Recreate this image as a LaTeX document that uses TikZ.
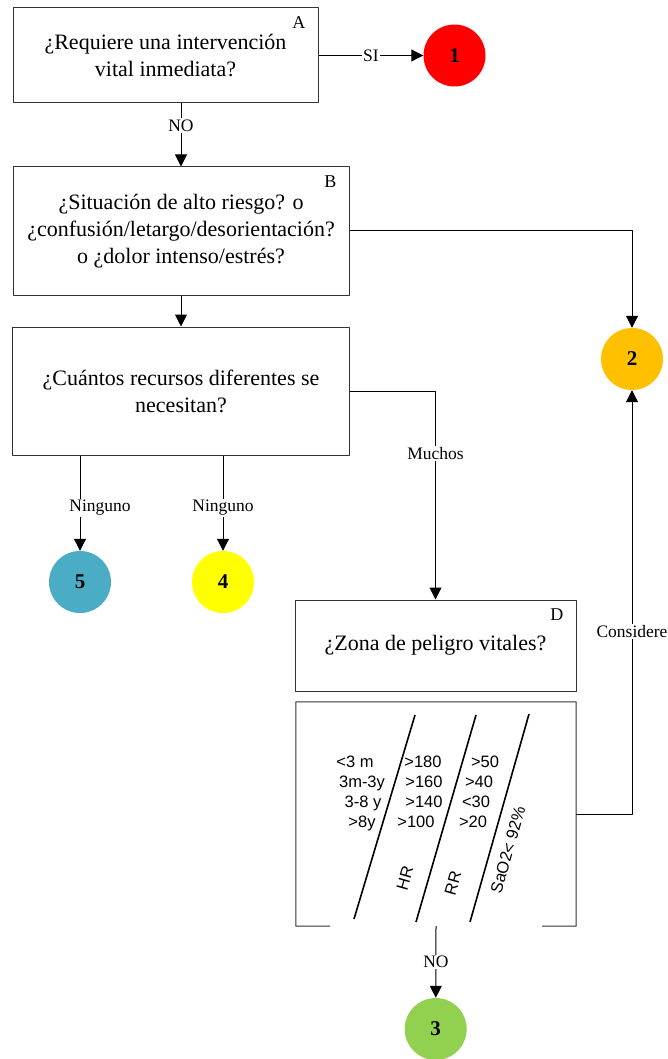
\documentclass[tikz,border=0pt]{standalone}
\usepackage{fontspec}
\setmainfont{Liberation Serif}
\newfontfamily\arialf{Liberation Sans}
\usetikzlibrary{arrows.meta}
\definecolor{naranja}{HTML}{FFC000}
\definecolor{verde}{HTML}{92D050}
\definecolor{amarillo}{HTML}{FFFF00}
\definecolor{azul}{HTML}{4BACC6}

\begin{document}
\begin{tikzpicture}[x=1pt,y=-1pt,>={Triangle[length=12pt,width=12pt]},line join=round,
	font=\fontsize{22}{27}\selectfont,
	caja/.style={draw=black!80,line width=1pt,align=center,inner sep=0pt},
	bola/.style={circle,minimum size=62pt,inner sep=0pt,font=\fontsize{21}{21}\selectfont\bfseries},
	etiq/.style={fill=white,inner sep=1.5pt,font=\fontsize{17.5}{17.5}\selectfont},
	flecha/.style={->,line width=1pt},
	cifra/.style={anchor=base,inner sep=0pt,font=\arialf\fontsize{16.5}{20}\selectfont}]
			\useasboundingbox (0,0) rectangle (668,1059);
			\newcommand{\letra}[2]{
				\node[anchor=north east,inner sep=0pt,font=\fontsize{18}{18}\selectfont] (#1l) at ([shift={(-13,9)}]#1.north east) {#2};
			}
			% Cajas
			\node[caja,minimum width=305pt,minimum height=95pt] (A) at (165.5,55.5) {¿Requiere una intervención\\vital inmediata?};
			\letra{A}{A}
			\node[caja,minimum width=336pt,minimum height=128pt] (B) at (181,231) {¿Situación de alto riesgo? o\\¿confusión/letargo/desorientación?\\o ¿dolor intenso/estrés?};
			\letra{B}{B}
			\node[caja,minimum width=337pt,minimum height=128pt] (C) at (181,391) {¿Cuántos recursos diferentes se\\necesitan?};
			\node[caja,minimum width=281pt,minimum height=91pt] (D) at (435.5,645.5) {¿Zona de peligro vitales?};
			\letra{D}{D}
			\node[minimum width=280pt,minimum height=224pt,inner sep=0pt] (E) at (436,814) {};
			\draw[draw=black!80,line width=1pt] (330,926) -- (E.south west) -- (E.north west) -- (E.north east) -- (E.south east) -- (542,926);
			% Círculos
			\node[bola,fill=red] (n1) at (454.5,55.5) {1};
			\node[bola,fill=naranja] (n2) at (632,359) {2};
			\node[bola,fill=verde] (n3) at (435.7,1029) {3};
			\node[bola,fill=amarillo] (n4) at (223,582) {4};
			\node[bola,fill=azul] (n5) at (80,582) {5};
			% Signos vitales
			\draw[line width=1.6pt] (354,919) -- (415,715);
			\draw[line width=1.6pt] (416,922) -- (476,715);
			\draw[line width=1.6pt] (470,922) -- (529,714);
			\foreach \t/\x/\y [count=\i] in {{<3 m}/355/767,{3m-3y}/362/787,{3-8 y}/363/807,{>8y}/362/827,
				{>180}/423/767,{>160}/424/787,{>140}/424/807,{>100}/416/827,
				{>50}/485/767,{>40}/479/787,{<30}/476/807,{>20}/473/827}
				\node[cifra] (f\i) at (\x,\y) {\t};
			\node[cifra,anchor=center,rotate=74] (hr) at (405,878) {HR};
			\node[cifra,anchor=center,rotate=74] (rr) at (453,883) {RR};
			\node[cifra,anchor=center,rotate=74] (sao) at (508,850) {SaO2< 92\%};
			% Flechas
			\draw[flecha] (A.east) -- node[etiq] (si) {SI} (n1);
			\draw[flecha] (A.south -| B.north) -- node[etiq,pos=0.35] (no1) {NO} (B.north);
			\draw[flecha] (B.east) -| (n2.north);
			\draw[flecha] (B.south) -- (C.north);
			\draw[flecha] (C.south -| n5.north) -- node[etiq,pos=0.55,xshift=20pt] (ning1) {Ninguno} (n5);
			\draw[flecha] (C.south -| n4.north) -- node[etiq,pos=0.55] (ning2) {Ninguno} (n4);
			\draw[flecha] (C.east) -| node[etiq,pos=0.65] (muchos) {Muchos} (D.north);
			\draw[flecha] (E.east) -| node[etiq,pos=0.715] (cons) {Considere} (n2.south);
			\draw[flecha] (E.south) -- node[etiq] (no2) {NO} (n3);
		\end{tikzpicture}
\end{document}
